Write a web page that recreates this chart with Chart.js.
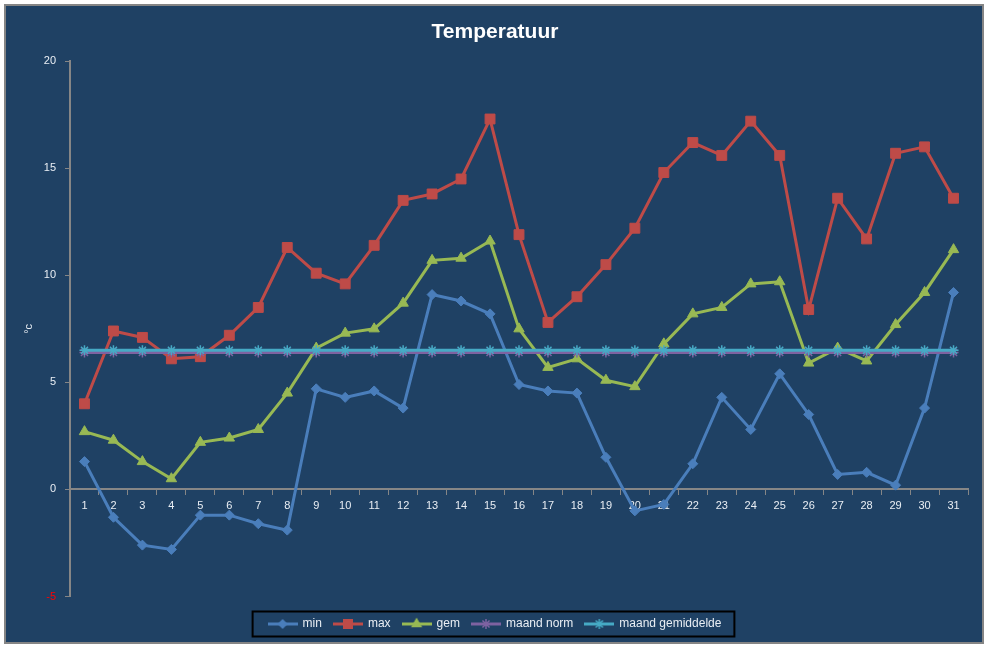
<!DOCTYPE html>
<html>
<head>
<meta charset="utf-8">
<script src="https://cdn.jsdelivr.net/npm/chart.js@4/dist/chart.umd.min.js"></script>
<style>
  body { margin: 0; background: #ffffff; }
  #frame { position: absolute; left: 4px; top: 4px; width: 976px; height: 636px;
           border: 2px solid #858585; background: #1f4164; }
  #c { position: absolute; left: 0; top: 0; }
</style>
</head>
<body>
<div id="frame"></div>
<canvas id="c" width="987" height="648"></canvas>
<script>
// day numbers and readings (°C)
const days = ['1','2','3','4','5','6','7','8','9','10','11','12','13','14','15','16',
              '17','18','19','20','21','22','23','24','25','26','27','28','29','30','31'];
const minT = [1.3, -1.3, -2.6, -2.8, -1.2, -1.2, -1.6, -1.9, 4.7, 4.3, 4.6, 3.8, 9.1, 8.8, 8.2, 4.9,
              4.6, 4.5, 1.5, -1.0, -0.7, 1.2, 4.3, 2.8, 5.4, 3.5, 0.7, 0.8, 0.2, 3.8, 9.2];
const maxT = [4.0, 7.4, 7.1, 6.1, 6.2, 7.2, 8.5, 11.3, 10.1, 9.6, 11.4, 13.5, 13.8, 14.5, 17.3, 11.9,
              7.8, 9.0, 10.5, 12.2, 14.8, 16.2, 15.6, 17.2, 15.6, 8.4, 13.6, 11.7, 15.7, 16.0, 13.6];
const gemT = [2.7, 2.3, 1.3, 0.5, 2.2, 2.4, 2.8, 4.5, 6.6, 7.3, 7.5, 8.7, 10.7, 10.8, 11.6, 7.5,
              5.7, 6.1, 5.1, 4.8, 6.8, 8.2, 8.5, 9.6, 9.7, 5.9, 6.6, 6.0, 7.7, 9.2, 11.2];
const maandNorm = [6.4, 6.4, 6.4, 6.4, 6.4, 6.4, 6.4, 6.4, 6.4, 6.4, 6.4, 6.4, 6.4, 6.4, 6.4, 6.4,
                   6.4, 6.4, 6.4, 6.4, 6.4, 6.4, 6.4, 6.4, 6.4, 6.4, 6.4, 6.4, 6.4, 6.4, 6.4];
const maandGem = [6.5, 6.5, 6.5, 6.5, 6.5, 6.5, 6.5, 6.5, 6.5, 6.5, 6.5, 6.5, 6.5, 6.5, 6.5, 6.5,
                  6.5, 6.5, 6.5, 6.5, 6.5, 6.5, 6.5, 6.5, 6.5, 6.5, 6.5, 6.5, 6.5, 6.5, 6.5];
const yTicks = [-5, 0, 5, 10, 15, 20];

const axisGrey = '#868686';
const textCol = '#e9eef4';

// little line-with-marker picture for the legend
function legendIcon(color, style, radius) {
  const cv = document.createElement('canvas');
  cv.width = 30; cv.height = 14;
  const g = cv.getContext('2d');
  g.strokeStyle = color; g.lineWidth = 3;
  g.beginPath(); g.moveTo(0, 7); g.lineTo(30, 7); g.stroke();
  g.fillStyle = color;
  g.lineWidth = 1.5;
  Chart.helpers.drawPoint(g, { pointStyle: style, radius: radius, rotation: 0, borderWidth: 1.5 }, 15, 7);
  return cv;
}

function series(label, data, color, style, radius, order) {
  return {
    label: label, data: data, order: order,
    borderColor: color, backgroundColor: color, borderWidth: 3, tension: 0,
    pointStyle: style, pointRadius: radius, pointHoverRadius: radius,
    pointBorderColor: color, pointBackgroundColor: color,
    pointBorderWidth: style === 'star' ? 1.5 : 1,
    icon: legendIcon(color, style, style === 'star' ? 5 : radius - 1)
  };
}

const legendBox = {
  id: 'legendBox',
  afterDraw(chart) {
    const boxes = chart.legend.legendHitBoxes;
    if (!boxes || !boxes.length) return;
    const first = boxes[0], last = boxes[boxes.length - 1];
    const cy = first.top + first.height / 2;
    const ctx = chart.ctx;
    ctx.save();
    ctx.strokeStyle = '#000000'; ctx.lineWidth = 2;
    ctx.strokeRect(first.left - 16, cy - 12.5, last.left + last.width - first.left + 29, 25);
    ctx.restore();
  }
};

new Chart(document.getElementById('c'), {
  type: 'line',
  data: {
    labels: days,
    datasets: [
      series('min', minT, '#4a7ebb', 'rectRot', 5, 5),
      series('max', maxT, '#be4b48', 'rect', 7, 4),
      series('gem', gemT, '#98b954', 'triangle', 6, 3),
      series('maand norm', maandNorm, '#7e62a1', 'star', 5, 2),
      series('maand gemiddelde', maandGem, '#46aac5', 'star', 5, 1)
    ]
  },
  options: {
    responsive: false,
    animation: false,
    layout: { padding: { left: 22, right: 19, top: 0, bottom: 8 } },
    plugins: {
      title: {
        display: true, text: 'Temperatuur', color: '#ffffff',
        font: { family: 'Liberation Sans', size: 21, weight: 'bold' },
        padding: { top: 20, bottom: 16 }
      },
      legend: {
        position: 'bottom',
        labels: {
          color: textCol, font: { family: 'Liberation Sans', size: 12 },
          usePointStyle: true, pointStyleWidth: 28, padding: 12,
          sort: (a, b) => a.datasetIndex - b.datasetIndex,
          generateLabels(chart) {
            return chart.data.datasets.map((ds, i) => ({
              text: ds.label, pointStyle: ds.icon, fillStyle: ds.borderColor,
              strokeStyle: ds.borderColor, lineWidth: 0, fontColor: textCol,
              hidden: false, datasetIndex: i
            }));
          }
        }
      },
      tooltip: { enabled: false }
    },
    scales: {
      x: {
        position: { y: 0 },
        offset: true,
        grid: { drawOnChartArea: false, drawTicks: true, tickLength: 5, color: axisGrey, offset: true },
        border: { color: axisGrey, width: 2 },
        ticks: { color: textCol, font: { family: 'Liberation Sans', size: 11 }, padding: 5, maxRotation: 0, autoSkip: false }
      },
      // empty strip that keeps the plot clear of the legend
      xGap: {
        type: 'category', position: 'bottom', offset: true,
        afterFit(s) { s.height = 9.5; },
        grid: { display: false }, border: { display: false }, ticks: { display: false }
      },
      y: {
        min: -5, max: 20,
        afterBuildTicks(s) { s.ticks = yTicks.map(v => ({ value: v })); },
        afterFit(s) { s.width = 48; },
        title: { display: true, text: '°c', color: textCol, font: { family: 'Liberation Sans', size: 11 }, padding: { top: 0, bottom: 0 } },
        grid: { drawOnChartArea: false, drawTicks: true, tickLength: 5, color: axisGrey },
        border: { color: axisGrey, width: 2 },
        ticks: {
          color: ctx => ctx.tick.value === -5 ? '#ff0000' : textCol,
          font: { family: 'Liberation Sans', size: 11 }, padding: 9
        }
      }
    }
  },
  plugins: [legendBox]
});
</script>
</body>
</html>
